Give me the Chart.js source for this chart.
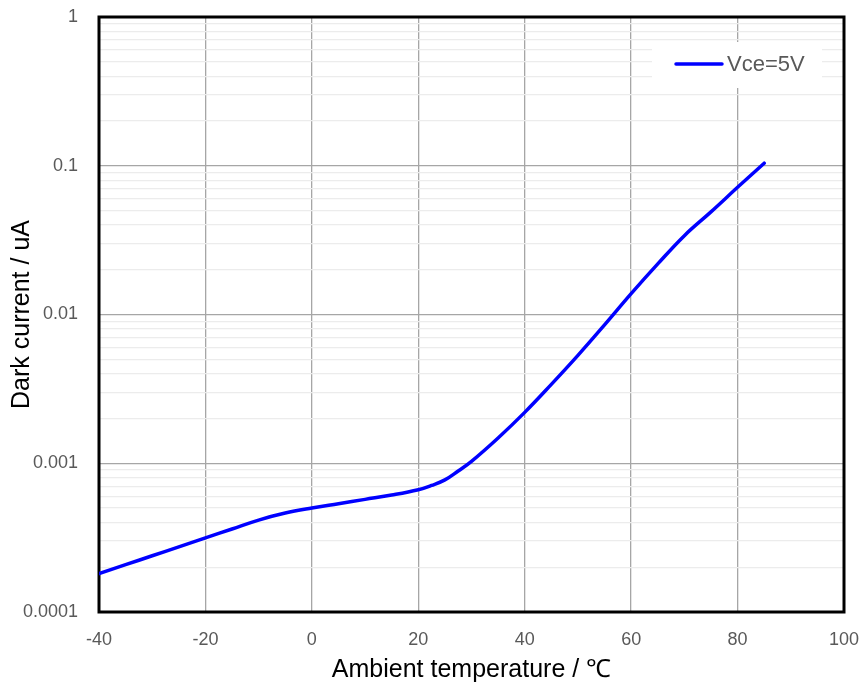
<!DOCTYPE html>
<html>
<head>
<meta charset="utf-8">
<script src="https://cdn.jsdelivr.net/npm/chart.js@4/dist/chart.umd.min.js"></script>
<style>
  html, body { margin: 0; padding: 0; background: #ffffff; }
  #c { display: block; }
</style>
</head>
<body>
<canvas id="c" width="863" height="689"></canvas>
<script>
// ---- data ----
const temps = [-40, -35, -30, -25, -20, -15, -10, -5, 0, 5, 10, 15, 20, 22.5, 25, 27.5, 30, 35, 40, 45, 50, 55, 60, 65, 70, 75, 80, 85];
const darkCurrent = [1.811e-4, 2.080e-4, 2.388e-4, 2.742e-4, 3.148e-4, 3.614e-4, 4.150e-4, 4.624e-4, 5.0e-4, 5.346e-4, 5.715e-4, 6.109e-4, 6.637e-4, 7.096e-4, 7.727e-4, 8.872e-4, 1.030e-3, 1.479e-3, 2.198e-3, 3.388e-3, 5.309e-3, 8.511e-3, 0.0138, 0.02188, 0.0339, 0.04898, 0.07161, 0.104];
const seriesName = 'Vce=5V';
const xTickValues = [-40, -20, 0, 20, 40, 60, 80, 100];
const yDecades = [0.0001, 0.001, 0.01, 0.1, 1];
const yTickLabels = ['0.0001', '0.001', '0.01', '0.1', '1'];
const xTitle = 'Ambient temperature / \u2103';
const yTitle = 'Dark current / uA';

const points = temps.map((t, i) => ({ x: t, y: darkCurrent[i] }));

function isDecade(v) {
  const l = Math.log10(v);
  return Math.abs(l - Math.round(l)) < 1e-9;
}

function zeroPad(scale) {
  scale.paddingTop = 0;
  scale.paddingBottom = 0;
  scale.paddingLeft = 0;
  scale.paddingRight = 0;
}

const frameAndLegend = {
  id: 'frameAndLegend',
  beforeDatasetsDraw(chart) {
    const { ctx, chartArea: a } = chart;
    ctx.save();
    ctx.strokeStyle = '#000000';
    ctx.lineWidth = 3;
    ctx.strokeRect(a.left, a.top, a.right - a.left, a.bottom - a.top);
    ctx.restore();
  },
  afterDatasetsDraw(chart) {
    const { ctx, chartArea: a } = chart;
    const bx = a.right - 192, by = a.top + 25, bw = 170, bh = 46;
    ctx.save();
    ctx.fillStyle = '#ffffff';
    ctx.fillRect(bx, by, bw, bh);
    const ly = by + 22;
    ctx.strokeStyle = '#0000ff';
    ctx.lineWidth = 3.5;
    ctx.lineCap = 'round';
    ctx.beginPath();
    ctx.moveTo(bx + 24, ly);
    ctx.lineTo(bx + 70, ly);
    ctx.stroke();
    ctx.fillStyle = '#595959';
    ctx.font = '22px "Liberation Sans", Arial, sans-serif';
    ctx.textBaseline = 'middle';
    ctx.textAlign = 'left';
    ctx.fillText(seriesName, bx + 75, ly + 1);
    ctx.restore();
  }
};

new Chart(document.getElementById('c'), {
  type: 'line',
  data: {
    datasets: [{
      label: seriesName,
      data: points,
      borderColor: '#0000ff',
      backgroundColor: '#0000ff',
      borderWidth: 3.5,
      borderCapStyle: 'round',
      borderJoinStyle: 'round',
      pointRadius: 0,
      tension: 0.4,
      fill: false
    }]
  },
  options: {
    responsive: false,
    animation: false,
    layout: { padding: { top: 17, right: 19, left: 0, bottom: 0 } },
    plugins: {
      legend: { display: false },
      tooltip: { enabled: false }
    },
    scales: {
      x: {
        type: 'linear',
        min: -40,
        max: 100,
        afterBuildTicks(scale) { scale.ticks = xTickValues.map(v => ({ value: v })); },
        afterFit(scale) { scale.height = 77; zeroPad(scale); },
        grid: { color: '#a6a6a6', lineWidth: 1.3, drawTicks: false },
        border: { display: false },
        ticks: {
          padding: 17,
          color: '#595959',
          font: { family: '"Liberation Sans", Arial, sans-serif', size: 18 },
          maxRotation: 0,
          callback: v => String(v)
        },
        title: {
          display: true,
          text: xTitle,
          color: '#000000',
          font: { family: '"Liberation Sans", Arial, sans-serif', size: 25 },
          padding: { top: 0, bottom: 4 }
        }
      },
      y: {
        type: 'logarithmic',
        min: 0.0001,
        max: 1,
        afterBuildTicks(scale) {
          const t = [];
          for (let d = 0; d < yDecades.length - 1; d++) {
            for (let m = 1; m <= 9; m++) {
              t.push({ value: Number((m * yDecades[d]).toPrecision(3)) });
            }
          }
          t.push({ value: yDecades[yDecades.length - 1] });
          scale.ticks = t;
        },
        afterFit(scale) { scale.width = 99; zeroPad(scale); },
        grid: {
          color: ctx => isDecade(ctx.tick.value) ? '#a6a6a6' : '#ececec',
          lineWidth: 1.3,
          drawTicks: false
        },
        border: { display: false },
        ticks: {
          padding: 21,
          color: '#595959',
          autoSkip: false,
          font: { family: '"Liberation Sans", Arial, sans-serif', size: 18 },
          callback: v => {
            const i = yDecades.findIndex(d => Math.abs(d - v) < d * 1e-6);
            return i >= 0 ? yTickLabels[i] : '';
          }
        },
        title: {
          display: true,
          text: yTitle,
          color: '#000000',
          font: { family: '"Liberation Sans", Arial, sans-serif', size: 25 },
          padding: { top: 7, bottom: 0 }
        }
      }
    }
  },
  plugins: [frameAndLegend]
});
</script>
</body>
</html>
